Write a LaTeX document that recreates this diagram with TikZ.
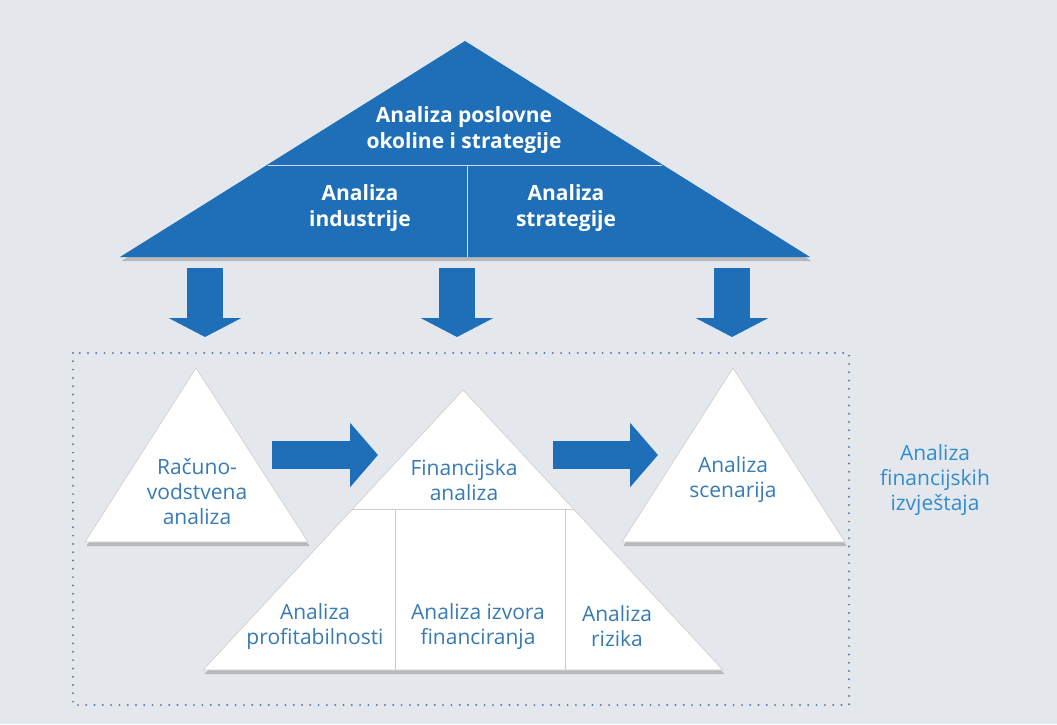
\documentclass[tikz,border=0pt]{standalone}
\usepackage{fontspec}
\setmainfont{Open Sans}
\usetikzlibrary{arrows.meta,shadows}

\definecolor{bggrey}{RGB}{228,232,236}
\definecolor{pblue}{RGB}{30,111,184}
\definecolor{tblue}{RGB}{55,122,180}
\definecolor{lblue}{RGB}{50,140,205}
\definecolor{dotblue}{RGB}{85,125,170}

\tikzset{
	bluetri/.style={fill=pblue, drop shadow={shadow xshift=1.5pt, shadow yshift=-4pt, opacity=0.45}},
	whitetri/.style={fill=white, draw=black!20, line width=0.6pt, drop shadow={shadow xshift=1.5pt, shadow yshift=-4pt, opacity=0.45}},
	bluediv/.style={draw=blue!15!white, line width=1pt},
	whitediv/.style={draw=black!20, line width=0.8pt},
	downarrow/.style={pblue, line width=36pt, -{Triangle[width=72pt, length=19pt]}},
	rightarrow/.style={pblue, line width=28pt, -{Triangle[width=63pt, length=28pt]}},
	toptext/.style={text=white, font=\bfseries\fontsize{21}{25.5}\selectfont, align=center},
	boxtext/.style={text=tblue, font=\fontsize{21}{25}\selectfont, align=center},
	sidetext/.style={text=lblue, font=\fontsize{21}{25}\selectfont, align=center},
}

\begin{document}
\begin{tikzpicture}[x=1pt, y=-1pt]
	% okvir
	\fill[bggrey] (0, 0) rectangle (1057, 724);
	\useasboundingbox (0, 0) rectangle (1057, 724);

	\coordinate (T) at (465, 41);
	\coordinate (T_l) at (120, 257);
	\coordinate (T_r) at (810, 257);
	\coordinate (L) at (196, 368);
	\coordinate (L_l) at (85, 542);
	\coordinate (L_r) at (308, 542);
	\coordinate (M) at (463, 390);
	\coordinate (M_l) at (203, 670);
	\coordinate (M_r) at (723, 670);
	\coordinate (R) at (733, 368);
	\coordinate (R_l) at (622, 542);
	\coordinate (R_r) at (845, 542);

	% okolina i strategija
	\path[bluetri] (T) -- (T_l) -- (T_r) -- cycle;
	\draw[bluediv] (268, 165) -- (662, 165);
	\draw[bluediv] (467, 165) -- (467, 257);

	% strelice prema dolje
	\coordinate (d1) at (205, 268);
	\coordinate (d1_e) at (205, 337);
	\coordinate (d2) at (457, 268);
	\coordinate (d2_e) at (457, 337);
	\coordinate (d3) at (732, 268);
	\coordinate (d3_e) at (732, 337);
	\draw[downarrow] (d1) -- (d1_e);
	\draw[downarrow] (d2) -- (d2_e);
	\draw[downarrow] (d3) -- (d3_e);

	% financijski izvjestaji
	\draw[dotblue, line width=2.2pt, line cap=round, dash pattern=on 0pt off 8.3pt] (73, 353) rectangle (849, 705);

	\path[whitetri] (L) -- (L_l) -- (L_r) -- cycle;
	\path[whitetri] (M) -- (M_l) -- (M_r) -- cycle;
	\path[whitetri] (R) -- (R_l) -- (R_r) -- cycle;
	\draw[whitediv] (352, 509) -- (574, 509);
	\draw[whitediv] (395, 509) -- (395, 670);
	\draw[whitediv] (565, 509) -- (565, 670);

	% strelice desno
	\coordinate (h1) at (272, 455);
	\coordinate (h1_e) at (378, 455);
	\coordinate (h2) at (553, 455);
	\coordinate (h2_e) at (658, 455);
	\draw[rightarrow] (h1) -- (h1_e);
	\draw[rightarrow] (h2) -- (h2_e);

	% tekst
	\node[toptext] (okolina) at (464, 130) {Analiza poslovne\\okoline i strategije};
	\node[toptext] (industrija) at (360, 208) {Analiza\\industrije};
	\node[toptext] (strategija) at (566, 208) {Analiza\\strategije};
	\node[boxtext] (racun) at (197, 492) {Računo-\\vodstvena\\analiza};
	\node[boxtext] (fin) at (464, 480) {Financijska\\analiza};
	\node[boxtext] (profit) at (315, 627) {Analiza\\profitabilnosti};
	\node[boxtext] (izvor) at (478, 627) {Analiza izvora\\financiranja};
	\node[boxtext] (rizik) at (617, 626) {Analiza\\rizika};
	\node[boxtext] (scen) at (733, 480) {Analiza\\scenarija};
	\node[sidetext] (izvj) at (935, 480) {Analiza\\financijskih\\izvještaja};
\end{tikzpicture}
\end{document}
